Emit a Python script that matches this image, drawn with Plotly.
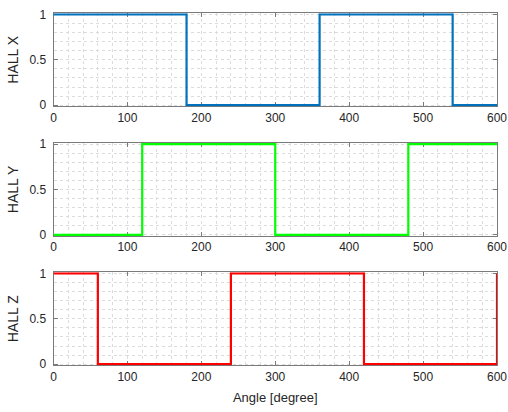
import plotly.graph_objects as go

# Data
angle_x = [0, 180, 180, 360, 360, 540, 540, 600]
hall_x = [1, 1, 0, 0, 1, 1, 0, 0]
angle_y = [0, 120, 120, 300, 300, 480, 480, 600]
hall_y = [0, 0, 1, 1, 0, 0, 1, 1]
angle_z = [0, 60, 60, 240, 240, 420, 420, 600, 600]
hall_z = [1, 1, 0, 0, 1, 1, 0, 0, 1]

series = [
    ("HALL X", angle_x, hall_x, "#0072BD"),
    ("HALL Y", angle_y, hall_y, "#00FF00"),
    ("HALL Z", angle_z, hall_z, "#FF0000"),
]
x_ticks = [0, 100, 200, 300, 400, 500, 600]
y_ticks = [0, 0.5, 1]

W, H = 508, 412
left, right = 53.5, 497
rows = [(13.3, 106.3), (143, 236), (272.3, 365.3)]

fig = go.Figure()
layout = dict(
    width=W, height=H, margin=dict(l=0, r=0, t=0, b=0),
    paper_bgcolor="white", plot_bgcolor="white", showlegend=False,
    font=dict(family="Liberation Sans, Arial, sans-serif", size=12, color="#262626"),
)
axcol = "#7a7a7a"
gridcol = "#dcdcdc"
for i, ((name, xs, ys, col), (top, bot)) in enumerate(zip(series, rows)):
    n = "" if i == 0 else str(i + 1)
    fig.add_trace(go.Scatter(x=xs, y=ys, mode="lines", line=dict(color=col, width=2.2),
                             xaxis="x" + n, yaxis="y" + n, hoverinfo="skip"))
    common = dict(showline=True, linecolor=axcol, linewidth=1, mirror="ticks",
                  ticks="inside", ticklen=4, tickcolor=axcol, layer="below traces",
                  showgrid=True, gridcolor=gridcol, griddash="dot", gridwidth=1,
                  zeroline=False, automargin=False, tickfont=dict(size=12, color="#262626"))
    layout["xaxis" + n] = dict(common, domain=[left / W, right / W], range=[0, 600],
                               tickvals=x_ticks, anchor="y" + n,
                               minor=dict(dtick=20, showgrid=True, gridcolor=gridcol,
                                          griddash="dot", gridwidth=1, ticks=""))
    layout["yaxis" + n] = dict(common, domain=[1 - bot / H, 1 - top / H], range=[-0.012, 1.012],
                               tickvals=y_ticks, ticktext=["0", "0.5", "1"], anchor="x" + n,
                               ticklabelstandoff=4,
                               title=dict(text=name, font=dict(size=14, color="#262626"), standoff=7),
                               minor=dict(dtick=0.1, tick0=0, showgrid=True, gridcolor=gridcol,
                                          griddash="dot", gridwidth=1, ticks=""))
layout["xaxis3"]["title"] = dict(text="Angle [degree]", font=dict(size=13, color="#262626"), standoff=10)
fig.update_layout(**layout)
fig.write_html("out.html")
